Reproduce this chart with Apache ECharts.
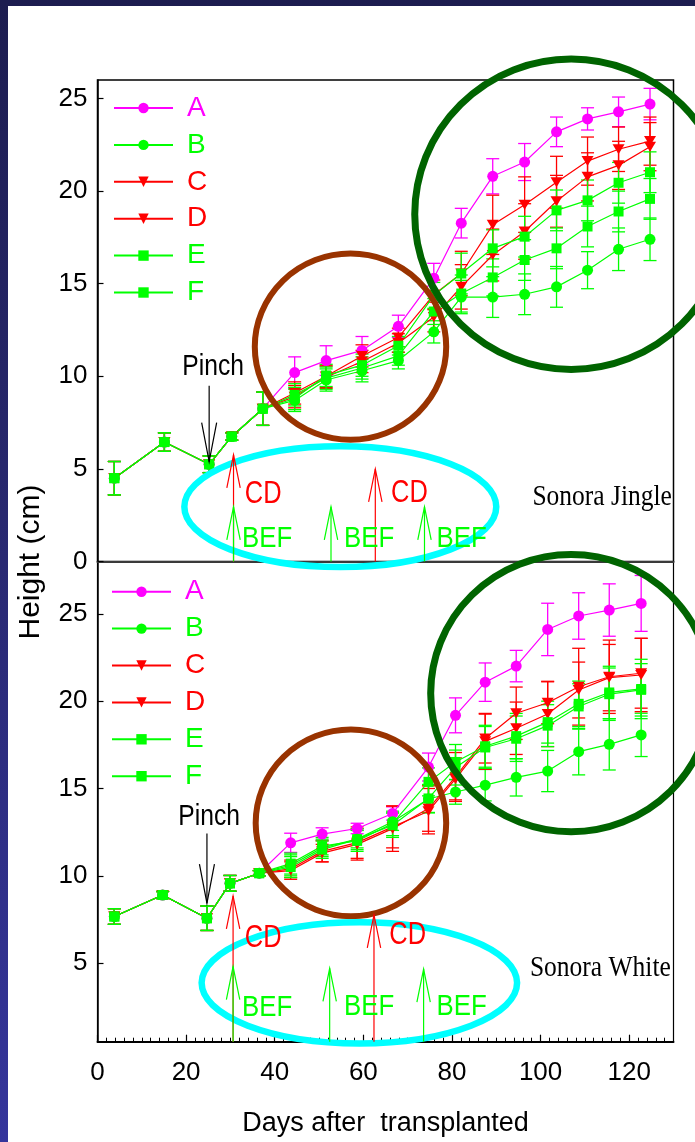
<!DOCTYPE html>
<html><head><meta charset="utf-8">
<script src="https://cdn.jsdelivr.net/npm/echarts@6/dist/echarts.min.js"></script>
<style>
html,body{margin:0;padding:0;}
body{width:695px;height:1142px;overflow:hidden;position:relative;background:linear-gradient(180deg,#1d1d50 0%,#28286f 45%,#35359c 100%);}
#paper{position:absolute;left:8px;top:6px;right:0;bottom:0;background:#fff;}
#chart{position:absolute;left:0;top:0;width:695px;height:1142px;}
</style></head>
<body><div id="paper"></div><div id="chart"></div>
<script>
// ---------------- DATA ----------------
const seriesNames = ['A','B','C','D','E','F'];

// Sonora Jingle (upper panel)
const daysJingle = [3.8, 15.1, 25.2, 30.3, 37.3, 44.5, 51.6, 59.7, 67.9, 75.9, 82.1, 89.2, 96.4, 103.6, 110.6, 117.6, 124.7];
const jingleA = [4.5, 6.45, 5.25, 6.75, 8.25, 10.2, 10.85, 11.4, 12.7, 15.3, 18.27, 20.8, 21.57, 23.2, 23.9, 24.28, 24.7];
const jingleB = [4.5, 6.45, 5.25, 6.75, 8.25, 8.7, 9.8, 10.3, 10.85, 12.4, 14.28, 14.28, 14.43, 14.83, 15.73, 16.86, 17.4];
const jingleC = [4.5, 6.45, 5.25, 6.75, 8.25, 9.1, 10.0, 11.1, 12.1, 14.4, 15.55, 18.18, 19.27, 20.48, 21.62, 22.26, 22.7];
const jingleD = [4.5, 6.45, 5.25, 6.75, 8.25, 8.9, 9.95, 10.8, 11.8, 13.2, 14.83, 16.55, 17.82, 19.45, 20.77, 21.39, 22.4];
const jingleE = [4.5, 6.45, 5.25, 6.75, 8.25, 8.8, 10.05, 10.6, 11.65, 14.37, 15.55, 16.91, 17.54, 18.96, 19.5, 20.45, 21.02];
const jingleF = [4.5, 6.45, 5.25, 6.75, 8.25, 9.0, 9.9, 10.45, 11.1, 13.5, 14.47, 15.34, 16.28, 16.91, 18.09, 18.9, 19.58];
const jingleErrA = [0.9, 0.5, 0.45, 0.2, 0.9, 0.85, 0.8, 0.75, 0.6, 0.8, 0.8, 0.95, 1.0, 0.8, 0.6, 0.8, 0.85];
const jingleErrB = [0.9, 0.5, 0.45, 0.2, 0.9, 0.6, 0.6, 0.6, 0.45, 0.6, 0.9, 1.1, 1.1, 1.1, 1.0, 1.15, 1.15];
const jingleErrC = [0.9, 0.5, 0.45, 0.2, 0.9, 0.6, 0.6, 0.6, 0.5, 0.8, 1.2, 1.6, 1.5, 1.4, 1.3, 1.2, 1.3];
const jingleErrD = [0.9, 0.5, 0.45, 0.2, 0.9, 0.6, 0.6, 0.6, 0.5, 0.8, 1.2, 1.4, 1.5, 1.4, 1.3, 1.3, 1.3];
const jingleErrE = [0.9, 0.5, 0.45, 0.2, 0.9, 0.6, 0.6, 0.6, 0.5, 0.7, 1.1, 1.0, 1.1, 1.1, 1.1, 1.1, 1.1];
const jingleErrF = [0.9, 0.5, 0.45, 0.2, 0.9, 0.6, 0.6, 0.6, 0.5, 0.7, 1.0, 1.0, 1.1, 1.1, 1.1, 1.1, 1.1];

// Sonora White (lower panel)
const daysWhite = [3.8, 14.7, 24.7, 29.9, 36.5, 43.6, 50.7, 58.6, 66.6, 74.7, 80.8, 87.5, 94.5, 101.6, 108.6, 115.5, 122.7];
const whiteA = [7.67, 8.9, 7.57, 9.57, 10.15, 11.89, 12.39, 12.71, 13.57, 16.23, 19.19, 21.09, 22.01, 24.11, 24.88, 25.22, 25.6];
const whiteB = [7.67, 8.9, 7.57, 9.57, 10.15, 10.6, 11.6, 12.1, 13.1, 14.4, 14.8, 15.19, 15.64, 16.0, 17.11, 17.53, 18.07];
const whiteC = [7.67, 8.9, 7.57, 9.57, 10.15, 10.3, 11.3, 11.8, 12.7, 13.85, 15.66, 17.86, 19.31, 19.91, 20.83, 21.4, 21.6];
const whiteD = [7.67, 8.9, 7.57, 9.57, 10.15, 10.4, 11.4, 11.9, 12.8, 13.7, 15.55, 17.7, 18.45, 19.27, 20.64, 21.35, 21.5];
const whiteE = [7.67, 8.9, 7.57, 9.57, 10.15, 10.7, 11.7, 12.0, 13.0, 15.38, 16.52, 17.42, 18.0, 18.8, 19.85, 20.5, 20.7];
const whiteF = [7.67, 8.9, 7.57, 9.57, 10.15, 10.5, 11.5, 12.1, 12.9, 14.43, 16.2, 17.35, 17.85, 18.6, 19.7, 20.4, 20.65];
const whiteErrA = [0.45, 0.2, 0.7, 0.45, 0.15, 0.55, 0.36, 0.3, 0.38, 0.8, 1.0, 1.1, 0.9, 1.5, 1.33, 1.5, 1.6];
const whiteErrB = [0.45, 0.2, 0.7, 0.45, 0.15, 0.6, 0.5, 0.5, 0.5, 0.8, 0.7, 0.9, 1.07, 1.18, 1.33, 1.47, 1.24];
const whiteErrC = [0.45, 0.2, 0.7, 0.45, 0.15, 0.5, 0.5, 0.9, 1.3, 1.3, 1.4, 1.4, 1.5, 1.2, 2.2, 2.1, 2.0];
const whiteErrD = [0.45, 0.2, 0.7, 0.45, 0.15, 0.5, 0.6, 0.9, 1.2, 1.3, 1.2, 1.6, 1.5, 1.87, 1.6, 1.9, 2.1];
const whiteErrE = [0.45, 0.2, 0.7, 0.45, 0.15, 0.6, 0.5, 0.6, 0.7, 0.8, 1.0, 1.2, 1.3, 1.2, 1.3, 1.5, 1.7];
const whiteErrF = [0.45, 0.2, 0.7, 0.45, 0.15, 0.6, 0.5, 0.6, 0.7, 0.8, 1.0, 1.2, 1.3, 1.2, 1.3, 1.5, 1.5];

// tick labels
const xTickValues = [0, 20, 40, 60, 80, 100, 120];
const xMinorTickValues = [2,4,6,8,10,12,14,16,18,22,24,26,28,30,32,34,36,38,42,44,46,48,50,52,54,56,58,62,64,66,68,70,72,74,76,78,82,84,86,88,90,92,94,96,98,102,104,106,108,110,112,114,116,118,122,124,126,128];
const yTickValuesJingle = [0, 5, 10, 15, 20, 25];
const yTickValuesWhite = [5, 10, 15, 20, 25];

// ---------------- STYLE ----------------
const COLORS = {A:'#ff00ff', B:'#00ff00', C:'#ff0000', D:'#ff0000', E:'#00ff00', F:'#00ff00'};
const TRI_DOWN = 'path://M0,0L10,0L5,9Z';
const SYMBOLS = {A:'circle', B:'circle', C:TRI_DOWN, D:TRI_DOWN, E:'rect', F:'rect'};
const SYMSIZE = {A:11, B:11, C:[12,10], D:[12,10], E:10, F:10};

function fontAvailable(name){
  const ctx = document.createElement('canvas').getContext('2d');
  const s = 'BEF Days after 0123456789 Wiggle';
  ctx.font = '40px monospace'; const a = ctx.measureText(s).width;
  ctx.font = '40px "' + name + '", monospace'; const b = ctx.measureText(s).width;
  return Math.abs(a - b) > 0.5;
}
const HAS_NARROW = fontAvailable('Liberation Sans Narrow');
const NARROW = HAS_NARROW ? '"Liberation Sans Narrow", "Liberation Sans", sans-serif' : '"Liberation Sans", Arial, sans-serif';
const FS = HAS_NARROW ? {tick:28, legend:30, title:31} : {tick:26, legend:28, title:27};
const SANS = '"Liberation Sans", Arial, sans-serif';
const SERIF = '"Liberation Serif", "Times New Roman", serif';

// ---------------- ANNOTATIONS (data units) ----------------
const annotJingle = [
  {kind:'ellipse', day:57.1, value:11.6, rx:21.6, ry:5.03, color:'#993300', width:6},
  {kind:'ellipse', day:106.9, value:18.75, rx:35.3, ry:8.38, color:'#006400', width:7},
  {kind:'ellipse', day:54.8, value:2.96, rx:35.2, ry:3.26, color:'#00ffff', width:6.5},
  {kind:'arrow', day:25.2, from:9.49, value:5.39, color:'#000000'},
  {kind:'arrow', day:30.7, from:0, value:5.76, color:'#ff0000'},
  {kind:'arrow', day:62.7, from:0, value:5.0, color:'#ff0000'},
  {kind:'arrow', day:30.7, from:0, value:2.95, color:'#00ff00'},
  {kind:'arrow', day:52.7, from:0, value:2.95, color:'#00ff00'},
  {kind:'arrow', day:73.8, from:0, value:2.95, color:'#00ff00'},
  {kind:'text', day:26.1, value:10.5, text:'Pinch', color:'#000000', size:29, sx:0.85, family:SANS},
  {kind:'text', day:37.4, value:3.6, text:'CD', color:'#ff0000', size:31, sx:0.82, family:SANS},
  {kind:'text', day:70.4, value:3.7, text:'CD', color:'#ff0000', size:31, sx:0.82, family:SANS},
  {kind:'text', day:38.3, value:1.25, text:'BEF', color:'#00ff00', size:30, sx:0.86, family:SANS},
  {kind:'text', day:61.3, value:1.25, text:'BEF', color:'#00ff00', size:30, sx:0.86, family:SANS},
  {kind:'text', day:82.2, value:1.25, text:'BEF', color:'#00ff00', size:30, sx:0.86, family:SANS},
  {kind:'text', day:113.9, value:3.49, text:'Sonora Jingle', color:'#000000', size:30, sx:0.85, family:SERIF}
];
const annotWhite = [
  {kind:'ellipse', day:57.2, value:13.03, rx:21.5, ry:5.35, color:'#993300', width:6},
  {kind:'ellipse', day:106.9, value:20.46, rx:31.7, ry:7.94, color:'#006400', width:7},
  {kind:'ellipse', day:59.1, value:3.87, rx:35.6, ry:3.47, color:'#00ffff', width:6.5},
  {kind:'arrow', day:24.7, from:12.43, value:8.43, color:'#000000'},
  {kind:'arrow', day:30.6, from:0.5, value:8.85, color:'#ff0000'},
  {kind:'arrow', day:62.4, from:0.5, value:7.76, color:'#ff0000'},
  {kind:'arrow', day:30.6, from:0.5, value:4.8, color:'#00ff00'},
  {kind:'arrow', day:52.4, from:0.5, value:4.7, color:'#00ff00'},
  {kind:'arrow', day:73.6, from:0.5, value:4.66, color:'#00ff00'},
  {kind:'text', day:25.2, value:13.38, text:'Pinch', color:'#000000', size:29, sx:0.85, family:SANS},
  {kind:'text', day:37.4, value:6.43, text:'CD', color:'#ff0000', size:31, sx:0.82, family:SANS},
  {kind:'text', day:70.0, value:6.6, text:'CD', color:'#ff0000', size:31, sx:0.82, family:SANS},
  {kind:'text', day:38.3, value:2.45, text:'BEF', color:'#00ff00', size:30, sx:0.86, family:SANS},
  {kind:'text', day:61.3, value:2.5, text:'BEF', color:'#00ff00', size:30, sx:0.86, family:SANS},
  {kind:'text', day:82.2, value:2.5, text:'BEF', color:'#00ff00', size:30, sx:0.86, family:SANS},
  {kind:'text', day:113.5, value:4.71, text:'Sonora White', color:'#000000', size:30, sx:0.85, family:SERIF}
];

// ---------------- BUILD ----------------
const panels = [
  {days:daysJingle, vals:[jingleA,jingleB,jingleC,jingleD,jingleE,jingleF], errs:[jingleErrA,jingleErrB,jingleErrC,jingleErrD,jingleErrE,jingleErrF], xi:0, yi:0, annot:annotJingle},
  {days:daysWhite, vals:[whiteA,whiteB,whiteC,whiteD,whiteE,whiteF], errs:[whiteErrA,whiteErrB,whiteErrC,whiteErrD,whiteErrE,whiteErrF], xi:1, yi:1, annot:annotWhite}
];

function errRender(color){
  return function(params, api){
    const x = api.value(0), lo = api.value(1), hi = api.value(2);
    const p1 = api.coord([x, lo]), p2 = api.coord([x, hi]);
    const hw = 6.5, st = {stroke: color, lineWidth: 1.3};
    return {type:'group', children:[
      {type:'line', shape:{x1:p1[0], y1:p1[1], x2:p2[0], y2:p2[1]}, style:st},
      {type:'line', shape:{x1:p1[0]-hw, y1:p1[1], x2:p1[0]+hw, y2:p1[1]}, style:st},
      {type:'line', shape:{x1:p2[0]-hw, y1:p2[1], x2:p2[0]+hw, y2:p2[1]}, style:st}
    ]};
  };
}

function annotRender(items){
  return function(params, api){
    const it = items[params.dataIndex];
    const c = api.coord([it.day, it.value]);
    if (it.kind === 'ellipse'){
      const s = api.size([it.rx, it.ry]);
      const rx = s[0], ry = s[1];
      const d = 'M' + (c[0]-rx) + ',' + c[1] + ' A' + rx + ',' + ry + ' 0 1 0 ' + (c[0]+rx) + ',' + c[1] +
                ' A' + rx + ',' + ry + ' 0 1 0 ' + (c[0]-rx) + ',' + c[1] + ' Z';
      return {type:'path', shape:{pathData:d}, style:{fill:'none', stroke:it.color, lineWidth:it.width}};
    }
    if (it.kind === 'arrow'){
      const b = api.coord([it.day, it.from]);
      const up = it.value > it.from;
      const ah = up ? 33 : 39, aw = up ? 6.7 : 7.5, dir = up ? 1 : -1;
      const st = {stroke:it.color, lineWidth:1.2, fill:'none'};
      return {type:'group', children:[
        {type:'line', shape:{x1:b[0], y1:b[1], x2:c[0], y2:c[1]}, style:st},
        {type:'polyline', shape:{points:[[c[0]-aw, c[1]+dir*ah],[c[0], c[1]],[c[0]+aw, c[1]+dir*ah]]}, style:st}
      ]};
    }
    return {type:'text', x:c[0], y:c[1], scaleX:it.sx,
      style:{text:it.text, fill:it.color, fontSize:it.size, fontFamily:it.family, align:'center', verticalAlign:'middle'}};
  };
}

const series = [];
panels.forEach(function(p, pi){
  seriesNames.forEach(function(n, si){
    series.push({
      type:'custom', name:'err' + n + pi, xAxisIndex:p.xi, yAxisIndex:p.yi, z:2, silent:true,
      renderItem: errRender(COLORS[n]),
      encode:{x:0, y:[1,2]},
      data: p.days.map(function(d, i){ return [d, p.vals[si][i] - p.errs[si][i], p.vals[si][i] + p.errs[si][i]]; })
    });
  });
  seriesNames.forEach(function(n, si){
    series.push({
      type:'line', name:n, xAxisIndex:p.xi, yAxisIndex:p.yi, z:3,
      symbol:SYMBOLS[n], symbolSize:SYMSIZE[n], showSymbol:true,
      lineStyle:{color:COLORS[n], width:1.2},
      itemStyle:{color:COLORS[n]},
      data: p.days.map(function(d, i){ return [d, p.vals[si][i]]; })
    });
  });
});
panels.forEach(function(p, pi){
  series.push({
    type:'custom', name:'annot' + pi, xAxisIndex:p.xi, yAxisIndex:p.yi, z:10, clip:false, silent:true,
    renderItem: annotRender(p.annot),
    encode:{x:0, y:1},
    data: p.annot.map(function(a){ return [a.day, a.value]; })
  });
});

function legendFor(left, top){
  return {
    left:left, top:top, orient:'vertical', padding:0, itemWidth:59, itemHeight:13, itemGap:6.9,
    selectedMode:false,
    data: seriesNames.map(function(n){ return {name:n, textStyle:{color:COLORS[n]}}; }),
    textStyle:{fontSize:FS.legend, fontFamily:NARROW, lineHeight:30, padding:[0,0,0,9]}
  };
}

const labelStyle = {fontSize:FS.tick, fontFamily:NARROW, color:'#000'};
const option = {
  animation:false,
  backgroundColor:'transparent',
  grid:[
    {left:97.5, top:80, width:576, height:481.5, show:true, borderColor:'#000', borderWidth:1.5, backgroundColor:'transparent'},
    {left:97.5, top:561.5, width:576, height:480.2, show:true, borderColor:'#000', borderWidth:1.2, backgroundColor:'transparent'}
  ],
  xAxis:[
    {gridIndex:0, type:'value', min:0, max:130, position:'bottom',
      axisLine:{show:true, onZero:false, lineStyle:{color:'#3a3a3a', width:2}},
      axisTick:{show:false}, axisLabel:{show:false}, splitLine:{show:false}},
    {gridIndex:1, type:'value', min:0, max:130, position:'bottom',
      axisLine:{show:true, onZero:false, lineStyle:{color:'#000', width:2}},
      axisTick:{show:true, inside:true, length:7, customValues:xTickValues, lineStyle:{color:'#000', width:1.2}},
      axisLabel:Object.assign({show:true, customValues:xTickValues, margin:18}, labelStyle),
      splitLine:{show:false},
      name:'Days after  transplanted', nameLocation:'middle', nameGap:68,
      nameTextStyle:{fontSize:FS.title, fontFamily:NARROW, color:'#000'}},
    {gridIndex:1, type:'value', min:0, max:130, position:'bottom',
      axisLine:{show:false},
      axisTick:{show:true, inside:true, length:4, customValues:xMinorTickValues, lineStyle:{color:'#000', width:1}},
      axisLabel:{show:false}, splitLine:{show:false}}
  ],
  yAxis:[
    {gridIndex:0, type:'value', min:0, max:26, position:'left',
      axisLine:{show:true, onZero:false, lineStyle:{color:'#000', width:1.5}},
      axisTick:{show:true, inside:true, length:6, customValues:yTickValuesJingle, lineStyle:{color:'#000', width:1.2}},
      axisLabel:Object.assign({show:true, customValues:yTickValuesJingle, margin:10}, labelStyle),
      splitLine:{show:false}},
    {gridIndex:1, type:'value', min:0.5, max:28, position:'left',
      axisLine:{show:true, onZero:false, lineStyle:{color:'#000', width:1.5}},
      axisTick:{show:true, inside:true, length:6, customValues:yTickValuesWhite, lineStyle:{color:'#000', width:1.2}},
      axisLabel:Object.assign({show:true, customValues:yTickValuesWhite, margin:10}, labelStyle),
      splitLine:{show:false}}
  ],
  legend:[legendFor(113, 93), legendFor(111, 576.7)],
  graphic:[
    {type:'text', x:30.5, y:562, rotation:Math.PI/2, silent:true,
     style:{text:'Height (cm)', fill:'#000', font:'30px "Liberation Sans", Arial, sans-serif', align:'center', verticalAlign:'middle'}}
  ],
  series:series
};

const chart = echarts.init(document.getElementById('chart'), null, {renderer:'canvas', width:695, height:1142});
chart.setOption(option);
</script>
</body></html>
